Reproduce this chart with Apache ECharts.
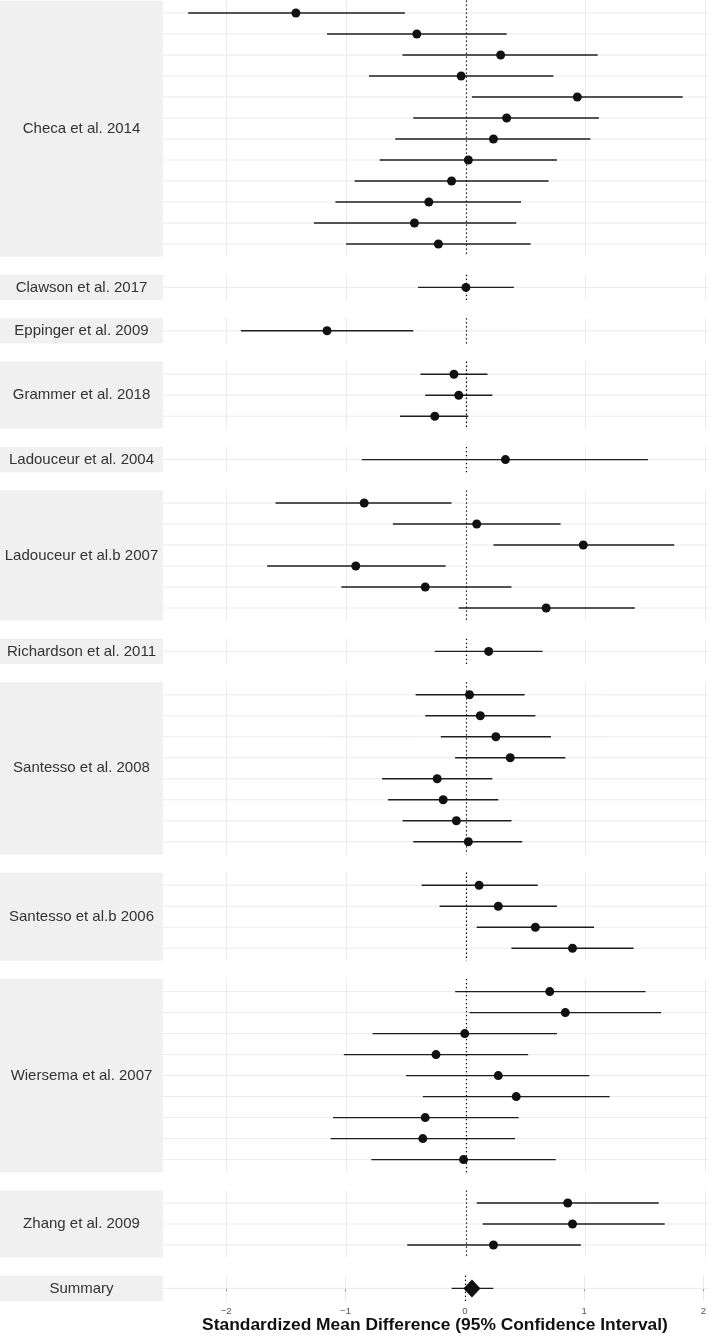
<!DOCTYPE html>
<html>
<head>
<meta charset="utf-8">
<script src="https://cdn.jsdelivr.net/npm/echarts@6/dist/echarts.min.js"></script>
<style>
html,body{margin:0;padding:0;background:#fff;}
#chart{width:709px;height:1336px;}
</style>
</head>
<body>
<div id="chart"></div>
<script>
// ---------------- DATA ----------------
const studies = [
  "Checa et al. 2014", "Clawson et al. 2017", "Eppinger et al. 2009", "Grammer et al. 2018",
  "Ladouceur et al. 2004", "Ladouceur et al.b 2007", "Richardson et al. 2011", "Santesso et al. 2008",
  "Santesso et al.b 2006", "Wiersema et al. 2007", "Zhang et al. 2009", "Summary"
];
// standardized mean difference per outcome row, grouped by study (top to bottom)
const smd = [
  [-1.42, -0.41, 0.29, -0.04, 0.93, 0.34, 0.23, 0.02, -0.12, -0.31, -0.43, -0.23],
  [0.00],
  [-1.16],
  [-0.10, -0.06, -0.26],
  [0.33],
  [-0.85, 0.09, 0.98, -0.92, -0.34, 0.67],
  [0.19],
  [0.03, 0.12, 0.25, 0.37, -0.24, -0.19, -0.08, 0.02],
  [0.11, 0.27, 0.58, 0.89],
  [0.70, 0.83, -0.01, -0.25, 0.27, 0.42, -0.34, -0.36, -0.02],
  [0.85, 0.89, 0.23],
  [0.06]
];
const ciLower = [
  [-2.32, -1.16, -0.53, -0.81, 0.05, -0.44, -0.59, -0.72, -0.93, -1.09, -1.27, -1.00],
  [-0.40],
  [-1.88],
  [-0.38, -0.34, -0.55],
  [-0.87],
  [-1.59, -0.61, 0.23, -1.66, -1.04, -0.06],
  [-0.26],
  [-0.42, -0.34, -0.21, -0.09, -0.70, -0.65, -0.53, -0.44],
  [-0.37, -0.22, 0.09, 0.38],
  [-0.09, 0.03, -0.78, -1.02, -0.50, -0.36, -1.11, -1.13, -0.79],
  [0.09, 0.14, -0.49],
  [-0.11]
];
const ciUpper = [
  [-0.51, 0.34, 1.10, 0.73, 1.81, 1.11, 1.04, 0.76, 0.69, 0.46, 0.42, 0.54],
  [0.40],
  [-0.44],
  [0.18, 0.22, 0.02],
  [1.52],
  [-0.12, 0.79, 1.74, -0.17, 0.38, 1.41],
  [0.64],
  [0.49, 0.58, 0.71, 0.83, 0.22, 0.27, 0.38, 0.47],
  [0.60, 0.76, 1.07, 1.40],
  [1.50, 1.63, 0.76, 0.52, 1.03, 1.20, 0.44, 0.41, 0.75],
  [1.61, 1.66, 0.96],
  [0.24]
];
const xTicks = [-2, -1, 0, 1, 2];
const xTitle = "Standardized Mean Difference (95% Confidence Interval)";

// ---------------- LAYOUT ----------------
const stripW = 163;
const rowH = 21;
const gap = 18.2;
const top0 = 0.4;
const xMin = -2.53, xMax = 2.03;
const FONT = '"Liberation Sans", Arial, Helvetica, sans-serif';

const chart = echarts.init(document.getElementById('chart'), null, {renderer: 'canvas'});

const grids = [], xAxes = [], yAxes = [], series = [], graphics = [];
let y = top0;
const last = studies.length - 1;
studies.forEach((name, i) => {
  const n = smd[i].length;
  const h = (n + 0.2) * rowH;
  grids.push({left: stripW, width: 709 - stripW, top: y, height: h, containLabel: false});
  const isLast = i === last;
  xAxes.push({
    type: 'value', gridIndex: i, min: xMin, max: xMax, splitNumber: 5,
    axisLine: {show: false},
    axisTick: {show: isLast, length: 3, lineStyle: {color: '#999999'}, customValues: xTicks},
    axisLabel: {
      show: isLast, customValues: xTicks, margin: 5, fontSize: 9.5, color: '#555555', fontFamily: FONT,
      formatter: v => (v < 0 ? '\u2212' + Math.abs(v) : String(v))
    },
    splitLine: {show: true, lineStyle: {color: '#ebebeb', width: 1}},
    name: isLast ? xTitle : '',
    nameLocation: 'middle', nameGap: 16,
    nameTextStyle: {fontSize: 17.4, fontWeight: 'bold', color: '#111111', fontFamily: FONT, verticalAlign: 'top'}
  });
  yAxes.push({
    type: 'value', gridIndex: i, inverse: true, min: -0.6, max: n - 0.4, show: false
  });
  const rows = smd[i].map((v, k) => [ciLower[i][k], ciUpper[i][k], k, v]);
  // horizontal grid lines at each row
  series.push({
    type: 'custom', xAxisIndex: i, yAxisIndex: i, z: 1, silent: true,
    data: rows,
    encode: {x: [0, 1], y: 2},
    renderItem: (params, api) => {
      const cs = params.coordSys;
      const py = api.coord([0, api.value(2)])[1];
      return {type: 'line', shape: {x1: cs.x, y1: py, x2: cs.x + cs.width, y2: py},
              style: {stroke: '#ebebeb', lineWidth: 1}};
    }
  });
  // confidence interval segments
  series.push({
    type: 'custom', xAxisIndex: i, yAxisIndex: i, z: 3, silent: true,
    data: rows,
    encode: {x: [0, 1], y: 2},
    renderItem: (params, api) => {
      const a = api.coord([api.value(0), api.value(2)]);
      const b = api.coord([api.value(1), api.value(2)]);
      return {type: 'line', shape: {x1: a[0], y1: a[1], x2: b[0], y2: b[1]},
              style: {stroke: '#1e1e1e', lineWidth: 1.4}};
    }
  });
  // point estimates (+ dotted null line)
  series.push({
    type: 'scatter', xAxisIndex: i, yAxisIndex: i, z: 4, silent: true,
    symbol: isLast ? 'diamond' : 'circle',
    symbolSize: isLast ? [17, 18] : 9,
    itemStyle: {color: '#111111', opacity: 1},
    data: smd[i].map((v, k) => [v, k]),
    markLine: {
      silent: true, symbol: ['none', 'none'], label: {show: false},
      lineStyle: {color: '#000000', type: [1.3, 2.7], width: 1.2, opacity: 1},
      data: [{xAxis: 0}], animation: false
    }
  });
  graphics.push({
    type: 'rect', left: 0, top: y, z: 0,
    shape: {x: 0, y: 0, width: stripW, height: h},
    style: {fill: '#f0f0f0'}
  });
  graphics.push({
    type: 'text', z: 1,
    x: stripW / 2, y: y + h / 2,
    style: {text: name, fill: '#333333', fontSize: 15, fontFamily: FONT,
            align: 'center', verticalAlign: 'middle', textAlign: 'center', textVerticalAlign: 'middle'}
  });
  y += h + gap;
});

chart.setOption({
  animation: false,
  backgroundColor: '#ffffff',
  grid: grids,
  xAxis: xAxes,
  yAxis: yAxes,
  series: series,
  graphic: {elements: graphics}
});
</script>
</body>
</html>
